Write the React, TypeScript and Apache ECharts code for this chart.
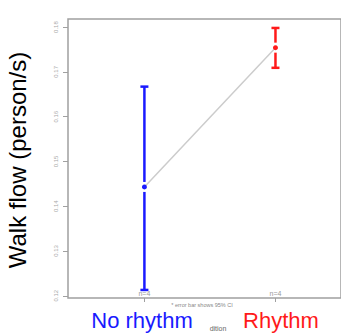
import React, { useEffect, useRef } from "react";
import * as echarts from "echarts";

const categories = ["No rhythm", "Rhythm"];
const groupPos = [1, 2];
const means = [0.1443, 0.1754];
const upper = [0.1667, 0.1798];
const lower = [0.1213, 0.1709];
const counts = ["n=4", "n=4"];
const colors = ["#1a1aff", "#ff1a1a"];
const yTicks = [0.12, 0.13, 0.14, 0.15, 0.16, 0.17, 0.18];

export default function App() {
  const ref = useRef<HTMLDivElement>(null);
  useEffect(() => {
    if (!ref.current) return;
    const chart = echarts.init(ref.current, null, { renderer: "svg" });
    const font = "Liberation Sans, Arial, sans-serif";
    chart.setOption({
      animation: false,
      grid: {
        left: 68,
        right: -3,
        top: 19,
        bottom: 38,
        show: true,
        borderColor: "#a0a0a0",
        borderWidth: 1.5,
        backgroundColor: "transparent",
      },
      xAxis: {
        type: "value",
        min: 0.417,
        max: 2.5,
        axisLine: { show: false },
        splitLine: { show: false },
        axisTick: { show: true, customValues: groupPos, length: 4, inside: false, lineStyle: { color: "#a0a0a0" } },
        axisLabel: { show: false, customValues: groupPos },
      },
      yAxis: {
        type: "value",
        min: 0.1195,
        max: 0.1818,
        axisLine: { show: false },
        splitLine: { show: false },
        axisTick: { show: true, customValues: yTicks, length: 5, lineStyle: { color: "#a0a0a0" } },
        axisLabel: {
          customValues: yTicks,
          rotate: 90,
          fontSize: 6,
          color: "#a8a8a8",
          fontFamily: font,
          margin: 9,
          formatter: (v: number) => v.toFixed(2),
        },
      },
      series: [
        {
          type: "line",
          data: groupPos.map((x, i) => [x, means[i]]),
          lineStyle: { color: "#cccccc", width: 1.5 },
          symbol: "none",
          z: 1,
        },
        {
          type: "custom",
          z: 2,
          data: groupPos.map((x, i) => [x, means[i], upper[i], lower[i], i]),
          renderItem: (params: any, api: any) => {
            const x = api.value(0);
            const i = api.value(4);
            const m = api.coord([x, api.value(1)]);
            const u = api.coord([x, api.value(2)]);
            const l = api.coord([x, api.value(3)]);
            const c = colors[i];
            const gap = 5;
            const cap = 4;
            const st = { stroke: c, lineWidth: 2.5 };
            return {
              type: "group",
              children: [
                { type: "line", shape: { x1: m[0], y1: u[1], x2: m[0], y2: m[1] - gap }, style: st },
                { type: "line", shape: { x1: m[0], y1: m[1] + gap, x2: m[0], y2: l[1] }, style: st },
                { type: "line", shape: { x1: m[0] - cap, y1: u[1], x2: m[0] + cap, y2: u[1] }, style: st },
                { type: "line", shape: { x1: m[0] - cap, y1: l[1], x2: m[0] + cap, y2: l[1] }, style: st },
                { type: "circle", shape: { cx: m[0], cy: m[1], r: 2.5 }, style: { fill: c } },
              ],
            };
          },
        },
        {
          type: "custom",
          z: 3,
          data: groupPos.map((x, i) => [x, i]),
          renderItem: (params: any, api: any) => {
            const x = api.value(0);
            const i = api.value(1);
            const p = api.coord([x, 0.1195]);
            return {
              type: "text",
              x: p[0],
              y: p[1] - 1,
              style: {
                text: counts[i],
                fontSize: 7,
                fill: "#999999",
                fontFamily: font,
                align: "center",
                verticalAlign: "bottom",
              },
            };
          },
        },
      ],
      graphic: [
        {
          type: "text",
          x: 17,
          y: 160,
          rotation: Math.PI / 2,
          style: {
            text: "Walk flow (person/s)",
            fontSize: 24,
            fill: "#000",
            fontFamily: font,
            align: "center",
            verticalAlign: "middle",
          },
        },
        {
          type: "text",
          x: 142,
          y: 320,
          style: { text: categories[0], fontSize: 22, fill: colors[0], fontFamily: font, align: "center", verticalAlign: "middle" },
        },
        {
          type: "text",
          x: 281,
          y: 320,
          style: { text: categories[1], fontSize: 22, fill: colors[1], fontFamily: font, align: "center", verticalAlign: "middle" },
        },
        {
          type: "text",
          x: 218,
          y: 328,
          style: { text: "dition", fontSize: 7, fill: "#666", fontFamily: font, align: "center", verticalAlign: "middle" },
        },
        {
          type: "text",
          x: 202,
          y: 305,
          style: { text: "* error bar shows 95% CI", fontSize: 5.5, fill: "#888", fontFamily: font, align: "center", verticalAlign: "middle" },
        },
      ],
    });
    return () => chart.dispose();
  }, []);
  return <div ref={ref} style={{ position: "absolute", left: 0, top: 0, width: 341, height: 336 }} />;
}
